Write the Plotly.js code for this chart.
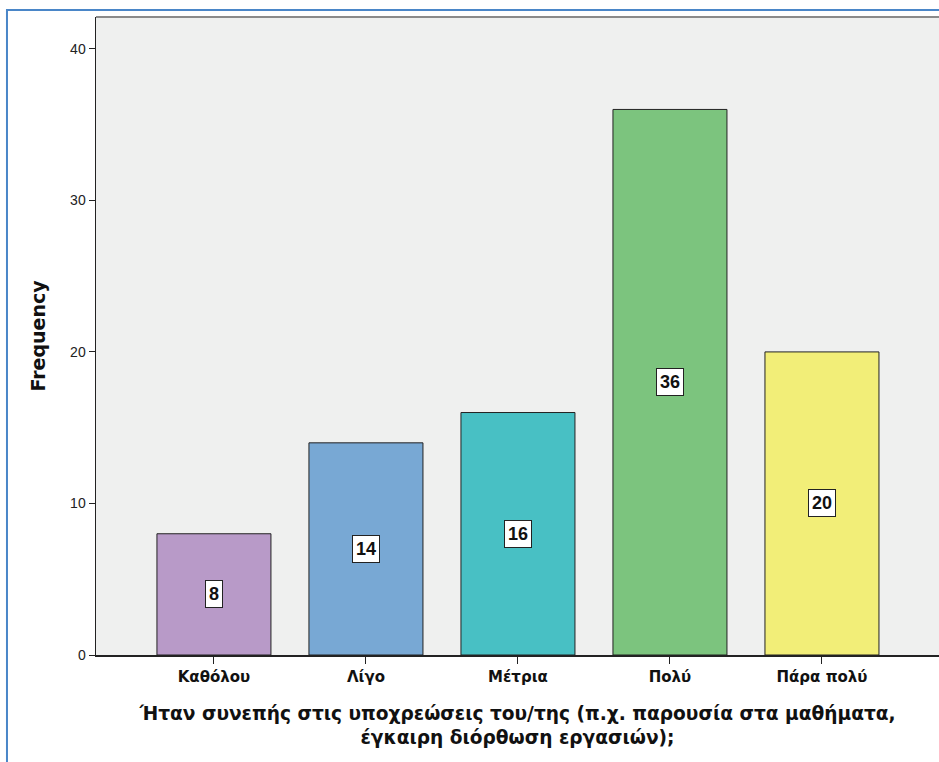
<!DOCTYPE html>
<html><head><meta charset="utf-8">
<script src="https://cdn.plot.ly/plotly-3.0.1.min.js"></script>
<style>html,body{margin:0;padding:0;background:#fff}</style>
</head><body>
<div id="chart" style="width:939px;height:762px"></div>
<script>
const categories = ["Καθόλου", "Λίγο", "Μέτρια", "Πολύ", "Πάρα πολύ"];
const frequencies = [8, 14, 16, 36, 20];
const barColors = ["#b89ac8", "#78a8d4", "#48c0c4", "#7cc47e", "#f2ee78"];
const yTicks = [0, 10, 20, 30, 40];
const xTitle = "Ήταν συνεπής στις υποχρεώσεις του/της (π.χ. παρουσία στα μαθήματα,<br>έγκαιρη διόρθωση εργασιών);";
const yTitle = "Frequency";

const font = "Liberation Sans, Arial, sans-serif";
const wide = "DejaVu Sans, Verdana, sans-serif";
const narrow = "Liberation Sans Narrow, Arial Narrow, Liberation Sans, sans-serif";
const trace = {
  type: "bar",
  x: categories,
  y: frequencies,
  width: 0.75,
  marker: {color: barColors, line: {color: "#222", width: 1}},
  hoverinfo: "none"
};
const annotations = categories.map((c, i) => ({
  x: c, y: frequencies[i] / 2, xref: "x", yref: "y",
  text: "<b>" + frequencies[i] + "</b>", showarrow: false,
  font: {family: narrow, size: 18, color: "#111"},
  bgcolor: "#ffffff", bordercolor: "#222", borderwidth: 1, borderpad: 3
}));
const layout = {
  width: 939, height: 762,
  margin: {l: 96, r: 0, t: 17, b: 107},
  paper_bgcolor: "#ffffff",
  plot_bgcolor: "#eff0ef",
  showlegend: false,
  font: {family: font, color: "#222"},
  xaxis: {
    type: "category",
    range: [-0.776, 4.77],
    showgrid: false, zeroline: false,
    showline: true, linecolor: "#222", linewidth: 1.5,
    ticks: "outside", ticklen: 7, tickcolor: "#222", tickwidth: 1,
    tickfont: {family: wide, size: 15, color: "#111", weight: "bold"},
    title: {text: "<b>" + xTitle + "</b>", font: {family: wide, size: 18.6, color: "#111"}, standoff: 22}
  },
  yaxis: {
    range: [0, 42.1],
    tickvals: yTicks,
    showgrid: false, zeroline: false,
    showline: true, linecolor: "#222", linewidth: 1.5,
    ticks: "outside", ticklen: 6, tickcolor: "#222", tickwidth: 1,
    tickfont: {family: font, size: 14, color: "#222"},
    title: {text: "<b>" + yTitle + "</b>", font: {family: wide, size: 19, color: "#111"}, standoff: 19}
  },
  shapes: [
    {type: "line", xref: "paper", yref: "paper", x0: 0, x1: 1.01, y0: 1, y1: 1,
     line: {color: "#8a8a8a", width: 2}},
    {type: "rect", xref: "paper", yref: "paper", x0: -0.1056, x1: 1.05, y0: -0.3, y1: 1.011,
     line: {color: "#4a86c8", width: 2}, layer: "above"}
  ],
  annotations: annotations
};
Plotly.newPlot("chart", [trace], layout, {displayModeBar: false, staticPlot: true});
</script>
</body></html>
